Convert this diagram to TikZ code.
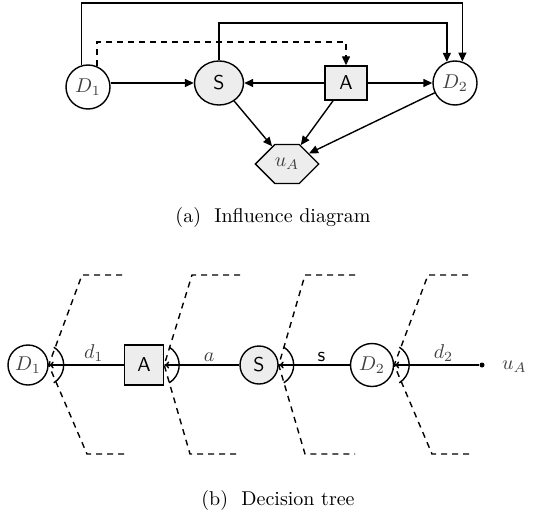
\documentclass[tikz,border=0pt]{standalone}
\usetikzlibrary{arrows.meta,shapes.geometric,shapes.symbols,calc}
\begin{document}
\begin{tikzpicture}[x=0.5pt,y=-0.5pt,
  every node/.style={font=\normalsize},
  base/.style={draw,line width=0.7pt,inner sep=0pt},
  chance/.style={base,circle,minimum size=22pt},
  shaded/.style={fill=black!7},
  mathlbl/.style={text=black!75},
  arr/.style={line width=0.7pt,-{Triangle[length=4.5pt,width=4pt]}},
  tarr/.style={line width=0.7pt,{To[length=2.5pt,width=3.5pt]}-},
  cut/.style={line width=0.7pt,dashed,dash pattern=on 3pt off 2.5pt},
  edgelbl/.style={above=1.5pt,inner sep=0pt}]
\useasboundingbox (0,0) rectangle (534,519);

% ---------- influence diagram ----------
\node[chance,mathlbl] (D1) at (88,87) {$D_1$};
\node[base,ellipse,shaded,minimum width=24.5pt,minimum height=22pt] (S) at (219,83) {\sffamily S};
\node[base,rectangle,shaded,minimum width=21pt,minimum height=17pt] (A) at (346,83) {\sffamily A};
\node[chance,mathlbl] (D2) at (455,83) {$D_2$};
\node[base,signal,signal to=east and west,shaded,minimum width=29.5pt,minimum height=19.5pt,mathlbl] (U) at (287,164) {$u_A$};

\draw[arr] (D1.east |- S.west) -- (S.west);
\draw[arr] (A.west) -- (S.east);
\draw[arr] (A.east) -- (D2.west);
\draw[arr] (S) -- (U);
\draw[arr] (A) -- (U);
\draw[arr] (D2) -- (U);
\draw[arr] (D1.106) -- (D1.106 |- 0,3) -| (D2.71);
\draw[arr] (S.north) -- (S.north |- 0,23) -| (D2.111);
\draw[arr,cut] (D1.67) -- (D1.67 |- 0,42) -| (A.north);

\node (capA) at (273,217) {(a)~~Influence diagram};

% ---------- decision tree ----------
\node[base,circle,minimum size=20pt,mathlbl] (d1) at (28,365) {$D_1$};
\node[base,rectangle,shaded,minimum width=19.5pt,minimum height=20pt] (a) at (144,365) {\sffamily A};
\node[base,circle,shaded,minimum size=19pt] (s) at (259,365) {\sffamily S};
\node[base,circle,minimum size=21.5pt,mathlbl] (d2) at (372,365) {$D_2$};
\node[circle,fill,inner sep=0pt,minimum size=2.5pt] (leaf) at (482,365) {};
\node[anchor=west,mathlbl] (uA) at (495,367) {$u_A$};

\draw[tarr] (d1.east) -- node[edgelbl,pos=0.6,mathlbl] {$d_1$} (a.west);
\draw[tarr] (a.east) -- node[edgelbl,pos=0.6,mathlbl] {$a$} (s.west);
\draw[tarr] (s.east) -- node[edgelbl,pos=0.6] {\sffamily s} (d2.west);
\draw[tarr] (d2.east) -- node[edgelbl,pos=0.58,mathlbl] {$d_2$} (leaf);

% choice brackets at each branching node
\foreach \n in {d1,a,s,d2}
  \draw[line width=0.7pt] ($(\n.east)+(5.1,-17.8)$) arc[start angle=-58,end angle=58,radius=21];

% dashed information cuts
\draw[cut] (122,275) -- (82,275) -- (d1.east) -- (87,454) -- (125,454);
\draw[cut] (240,275) -- (192,275) -- (a.east) -- (190,454) -- (240,454);
\draw[cut] (355,275) -- (305,275) -- (s.east) -- (305,454) -- (355,454);
\draw[cut] (468,275) -- (428,275) -- (d2.east) -- (432,454) -- (470,454);

\node (capB) at (278,500) {(b)~~Decision tree};
\end{tikzpicture}
\end{document}
